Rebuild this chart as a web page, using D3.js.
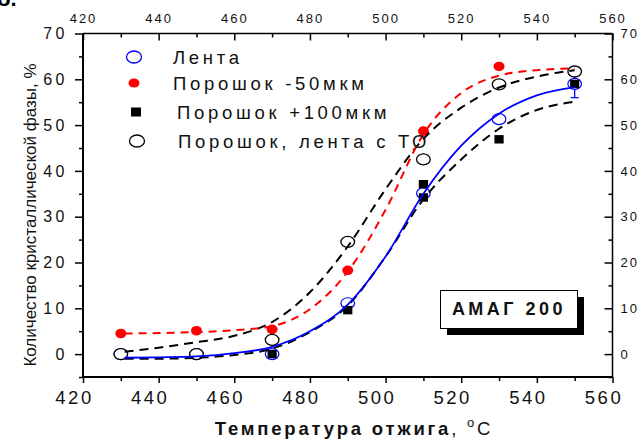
<!DOCTYPE html>
<html>
<head>
<meta charset="utf-8">
<script src="https://cdn.jsdelivr.net/npm/d3@7"></script>
<style>
  body { margin: 0; background: #fff; }
  svg { display: block; font-family: "Liberation Sans", Arial, sans-serif; }
</style>
</head>
<body>
<div id="container"></div>
<script>
/* DATA */
const tempX = [430, 450, 470, 490, 510, 530, 550];
const lenta = [0, 0, 0, 11.1, 35.1, 51.3, 59.0];
const lentaErr = [0, 0, 0, 0, 0, 0, 3.0];
const powder50 = [4.5, 5.1, 5.4, 18.3, 48.7, 62.8];
const powder100X = [430, 450, 470, 490, 510, 510, 530, 550];
const powder100 = [0, 0, 0, 9.6, 37.1, 34.2, 46.9, 59.0];
const withTO = [0, 0, 3.1, 24.5, 42.5, 58.9, 61.7];

// fitted curves
const fitX = [431, 440, 450, 460, 470, 480, 490, 500, 510, 520, 530, 540, 550];
const fitLenta = [-0.8, -0.7, -0.5, 0.2, 1.6, 5.0, 10.8, 21.3, 35.0, 45.5, 52.5, 56.5, 58.3];
const fitPowder50 = [4.5, 4.6, 4.8, 5.2, 6.1, 9.8, 18.0, 31.5, 48.0, 57.0, 60.8, 62.0, 62.4];
const fitPowder100 = [-1.0, -1.0, -0.8, -0.2, 1.2, 4.8, 10.6, 21.3, 33.8, 42.5, 49.2, 53.3, 55.1];
const fitTO = [0.5, 1.4, 2.6, 4.0, 7.0, 13.5, 23.5, 36.0, 47.0, 53.8, 58.2, 60.6, 62.0];

const xMajor = [420, 440, 460, 480, 500, 520, 540, 560];
const xMinor = [430, 450, 470, 490, 510, 530, 550];
const yMajor = [0, 10, 20, 30, 40, 50, 60, 70];
const yMinor = [-5, 5, 15, 25, 35, 45, 55, 65];

const legendLabels = ["Лента", "Порошок -50мкм", "Порошок +100мкм", "Порошок, лента с ТО"];

/* CONSTANTS */
const width = 640, height = 439;
const margin = { top: 33.5, right: 27.5, bottom: 62, left: 83 };

const svg = d3.select("#container").append("svg")
  .attr("width", width)
  .attr("height", height);

svg.append("rect").attr("width", width).attr("height", height).attr("fill", "#fff");

const xScale = d3.scaleLinear().domain([420, 560]).range([margin.left, width - margin.right]);
const yScale = d3.scaleLinear().domain([-5, 70]).range([height - margin.bottom, margin.top]);

/* AXES */
function styleAxis(g, fontSize, spacing) {
  g.select(".domain").remove();
  g.selectAll("line").attr("stroke", "#000").attr("stroke-width", 1.5);
  g.selectAll("text")
    .attr("fill", "#111")
    .style("font-size", fontSize + "px")
    .style("letter-spacing", spacing + "px");
}

const bottomY = yScale(-5), topY = yScale(70);
const leftX = xScale(420), rightX = xScale(560);

// bottom
svg.append("g").attr("transform", `translate(0,${bottomY})`)
  .call(d3.axisBottom(xScale).tickValues(xMajor).tickSize(6).tickPadding(8))
  .call(g => styleAxis(g, 18.5, 2.5))
  .call(g => g.selectAll("text").attr("dx", -9));
svg.append("g").attr("transform", `translate(0,${bottomY})`)
  .call(d3.axisBottom(xScale).tickValues(xMinor).tickSize(4).tickFormat(""))
  .call(g => styleAxis(g, 1, 0));

// top
svg.append("g").attr("transform", `translate(0,${topY})`)
  .call(d3.axisTop(xScale).tickValues(xMajor).tickSize(-7).tickPadding(11))
  .call(g => styleAxis(g, 13, 2));
svg.append("g").attr("transform", `translate(0,${topY})`)
  .call(d3.axisTop(xScale).tickValues(xMinor).tickSize(-4).tickFormat(""))
  .call(g => styleAxis(g, 1, 0));

// left
svg.append("g").attr("transform", `translate(${leftX},0)`)
  .call(d3.axisLeft(yScale).tickValues(yMajor).tickSize(8).tickPadding(7))
  .call(g => styleAxis(g, 16, 3.5));
svg.append("g").attr("transform", `translate(${leftX},0)`)
  .call(d3.axisLeft(yScale).tickValues(yMinor).tickSize(4).tickFormat(""))
  .call(g => styleAxis(g, 1, 0));

// right
svg.append("g").attr("transform", `translate(${rightX},0)`)
  .call(d3.axisRight(yScale).tickValues(yMajor).tickSize(-8).tickPadding(8))
  .call(g => styleAxis(g, 13, 2));
svg.append("g").attr("transform", `translate(${rightX},0)`)
  .call(d3.axisRight(yScale).tickValues(yMinor).tickSize(-4).tickFormat(""))
  .call(g => styleAxis(g, 1, 0));

// frame
svg.append("line").attr("x1", leftX).attr("x2", leftX).attr("y1", topY).attr("y2", bottomY)
  .attr("stroke", "#000").attr("stroke-width", 2);
svg.append("line").attr("x1", leftX).attr("x2", rightX).attr("y1", bottomY).attr("y2", bottomY)
  .attr("stroke", "#000").attr("stroke-width", 2);
svg.append("line").attr("x1", leftX).attr("x2", rightX).attr("y1", topY).attr("y2", topY)
  .attr("stroke", "#000").attr("stroke-width", 1.5);
svg.append("line").attr("x1", rightX).attr("x2", rightX).attr("y1", topY).attr("y2", bottomY)
  .attr("stroke", "#000").attr("stroke-width", 1.5);

/* AXIS TITLES */
const xTitle = svg.append("text")
  .attr("x", 354).attr("y", 435)
  .attr("text-anchor", "middle")
  .style("font-size", "18.5px")
  .style("letter-spacing", "2.8px")
  .attr("fill", "#111");
xTitle.append("tspan").style("font-weight", "bold").text("Температура отжига");
xTitle.append("tspan").text(", ");
xTitle.append("tspan").attr("dy", -8).style("font-size", "13px").text("o");
xTitle.append("tspan").attr("dy", 8).text("C");

svg.append("text")
  .attr("transform", "translate(36,215) rotate(-90)")
  .attr("text-anchor", "middle")
  .style("font-size", "17px")
  .attr("fill", "#111")
  .text("Количество кристаллической фазы, %");

// corner fragment
svg.append("text").attr("x", -3).attr("y", 6)
  .style("font-size", "22px").style("font-weight", "bold").text("б.");

/* FIT CURVES */
const line = d3.line()
  .x(d => xScale(d[0]))
  .y(d => yScale(d[1]))
  .curve(d3.curveMonotoneX);

const fits = [
  { y: fitPowder100, color: "#000", dash: "9,6", w: 2 },
  { y: fitTO, color: "#000", dash: "9,6", w: 2 },
  { y: fitPowder50, color: "#ff0000", dash: "8,6", w: 2 },
  { y: fitLenta, color: "#0000ff", dash: null, w: 1.8 }
];

/* MARKERS */
// error bars on blue
tempX.forEach((t, i) => {
  if (lentaErr[i] > 0) {
    const cx = xScale(t);
    svg.append("line").attr("x1", cx).attr("x2", cx)
      .attr("y1", yScale(lenta[i] - lentaErr[i])).attr("y2", yScale(lenta[i] + lentaErr[i]))
      .attr("stroke", "#0000ff").attr("stroke-width", 1.3);
    [-lentaErr[i], lentaErr[i]].forEach(e => {
      svg.append("line").attr("x1", cx - 4).attr("x2", cx + 4)
        .attr("y1", yScale(lenta[i] + e)).attr("y2", yScale(lenta[i] + e))
        .attr("stroke", "#0000ff").attr("stroke-width", 1.3);
    });
  }
});

svg.selectAll(".red")
  .data(powder50.map((v, i) => [tempX[i], v]))
  .join("ellipse")
  .attr("class", "red")
  .attr("cx", d => xScale(d[0])).attr("cy", d => yScale(d[1]))
  .attr("rx", 5.5).attr("ry", 4.8)
  .attr("fill", "#ff0000");

svg.selectAll(".blue")
  .data(lenta.map((v, i) => [tempX[i], v]))
  .join("ellipse")
  .attr("class", "blue")
  .attr("cx", d => xScale(d[0])).attr("cy", d => yScale(d[1]))
  .attr("rx", 6.8).attr("ry", 5.5)
  .attr("fill", "#fff").attr("stroke", "#0000ff").attr("stroke-width", 1.2);

svg.selectAll(".sq")
  .data(powder100.map((v, i) => [powder100X[i], v]))
  .join("rect")
  .attr("class", "sq")
  .attr("x", d => xScale(d[0]) - 4.6).attr("y", d => yScale(d[1]) - 4.2)
  .attr("width", 9.2).attr("height", 8.4)
  .attr("fill", "#000");

svg.selectAll(".to")
  .data(withTO.map((v, i) => [tempX[i], v]))
  .join("ellipse")
  .attr("class", "to")
  .attr("cx", d => xScale(d[0])).attr("cy", d => yScale(d[1]))
  .attr("rx", 6.8).attr("ry", 5.5)
  .attr("fill", "#fff").attr("stroke", "#000").attr("stroke-width", 1.3);

fits.forEach(f => {
  svg.append("path")
    .datum(fitX.map((t, i) => [t, f.y[i]]))
    .attr("d", line)
    .attr("fill", "none")
    .attr("stroke", f.color)
    .attr("stroke-width", f.w)
    .attr("stroke-dasharray", f.dash);
});

/* LEGEND */
const legendRows = [57, 83, 112, 141];
const legendTextX = [173, 173, 177, 178];
const lg = svg.append("g");
lg.append("ellipse").attr("cx", 134).attr("cy", legendRows[0]).attr("rx", 7.5).attr("ry", 6)
  .attr("fill", "#fff").attr("stroke", "#0000ff").attr("stroke-width", 1.3);
lg.append("ellipse").attr("cx", 134).attr("cy", legendRows[1]).attr("rx", 5.5).attr("ry", 4.5)
  .attr("fill", "#ff0000");
lg.append("rect").attr("x", 136 - 5).attr("y", legendRows[2] - 4.5).attr("width", 10).attr("height", 9)
  .attr("fill", "#000");
lg.append("ellipse").attr("cx", 137).attr("cy", legendRows[3]).attr("rx", 7.5).attr("ry", 6)
  .attr("fill", "#fff").attr("stroke", "#000").attr("stroke-width", 1.3);
lg.selectAll("text")
  .data(legendLabels)
  .join("text")
  .attr("x", (d, i) => legendTextX[i])
  .attr("y", (d, i) => legendRows[i] + 7)
  .style("font-size", "18.5px")
  .style("letter-spacing", "3.7px")
  .attr("fill", "#111")
  .text(d => d);

/* LABEL BOX */
svg.append("rect").attr("x", 447).attr("y", 297).attr("width", 137).attr("height", 38).attr("fill", "#000");
svg.append("rect").attr("x", 440.5).attr("y", 290.5).attr("width", 137).attr("height", 38)
  .attr("fill", "#fff").attr("stroke", "#000").attr("stroke-width", 1);
svg.append("text").attr("x", 509).attr("y", 315)
  .attr("text-anchor", "middle")
  .style("font-size", "18px").style("font-weight", "bold").style("letter-spacing", "3.5px")
  .attr("fill", "#111")
  .text("АМАГ 200");
</script>
</body>
</html>
